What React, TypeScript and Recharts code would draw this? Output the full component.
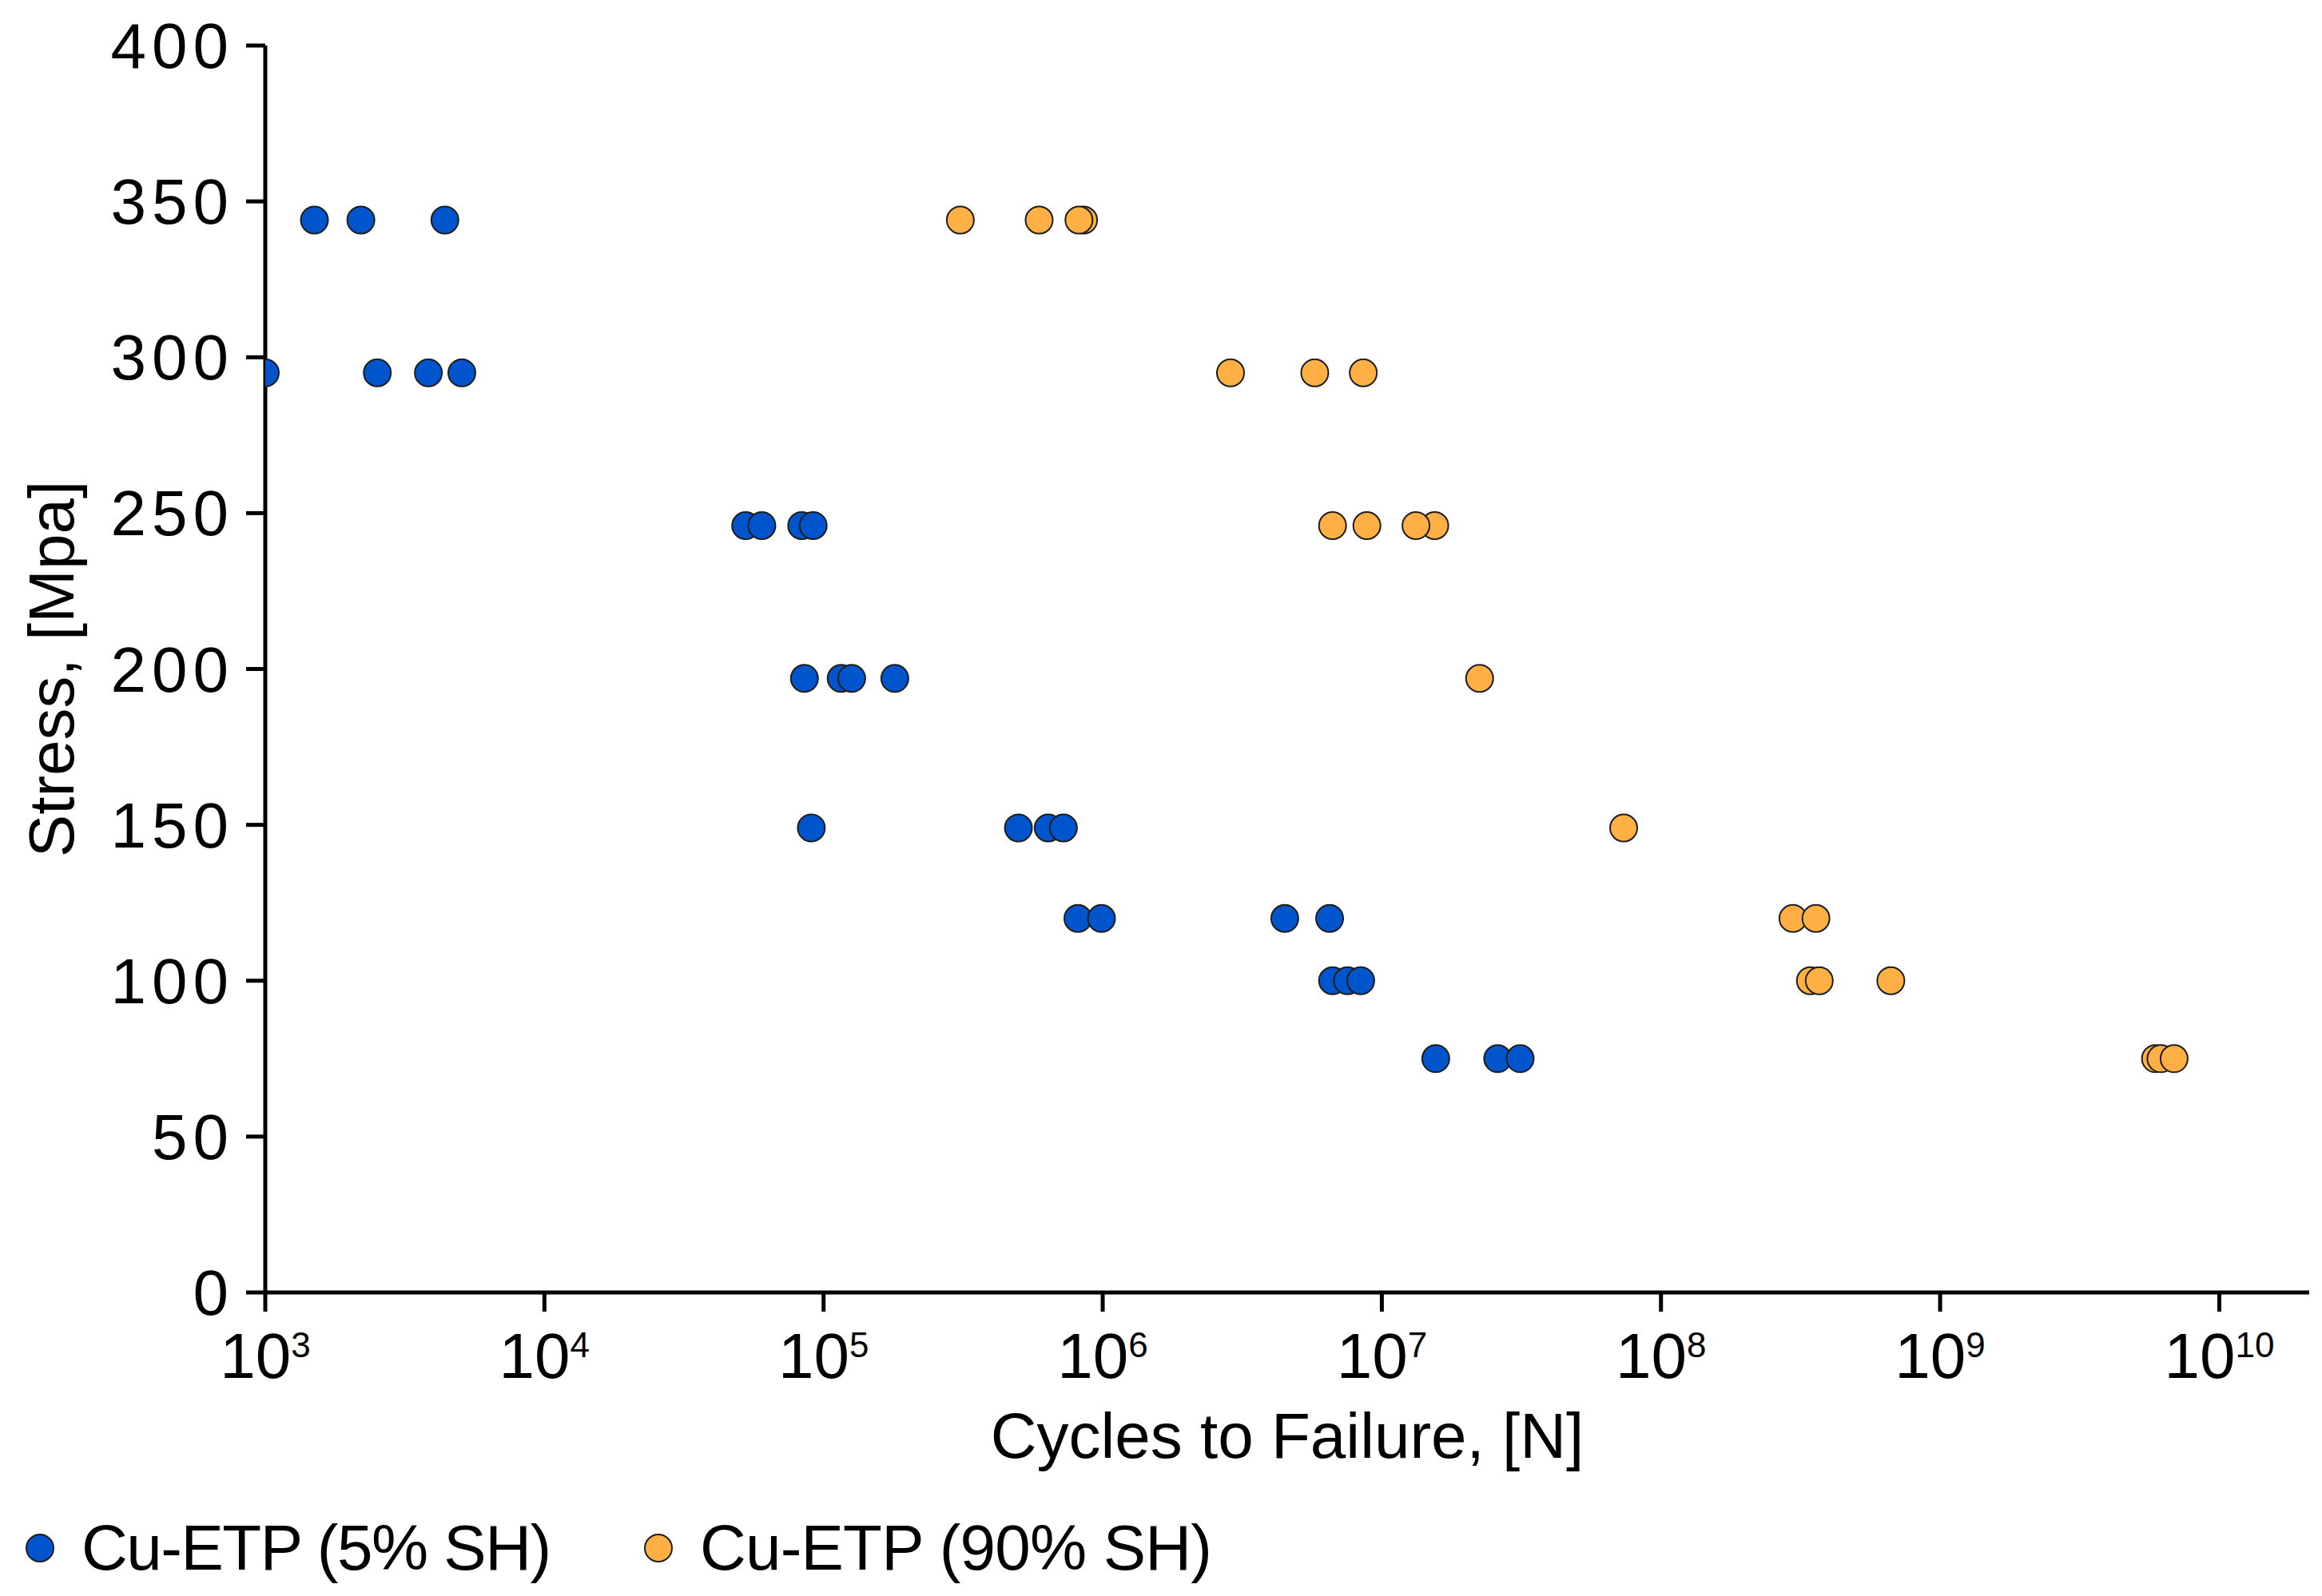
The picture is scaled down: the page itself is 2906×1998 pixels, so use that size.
import React from "react";
import {
  Label,
  Legend,
  Scatter,
  ScatterChart,
  XAxis,
  YAxis,
} from "recharts";

const FONT = "'Liberation Sans', Arial, sans-serif";
const BLUE = "#0055CC";
const ORANGE = "#FFB045";
const EDGE = "#1e1e1e";

// Cu-ETP (5% SH)
const CYCLES_5SH = [
  1500, 2200, 4400,
  1000, 2520, 3840, 5060,
  52600, 60100, 83500, 91800,
  85400, 115600, 126100, 180000,
  90400, 499000, 638000, 723000,
  815000, 990000, 4490000, 6500000,
  6660000, 7530000, 8400000,
  15600000, 26000000, 31300000,
];
const STRESS_5SH = [
  344, 344, 344,
  295, 295, 295, 295,
  246, 246, 246, 246,
  197, 197, 197, 197,
  149, 149, 149, 149,
  120, 120, 120, 120,
  100, 100, 100,
  75, 75, 75,
];

// Cu-ETP (90% SH)
const CYCLES_90SH = [
  309000, 592000, 854000, 822000,
  2870000, 5750000, 8580000,
  6660000, 8840000, 15470000, 13250000,
  22400000,
  73500000,
  297000000, 359000000,
  343000000, 369000000, 666000000,
  5910000000, 6180000000, 6890000000,
];
const STRESS_90SH = [
  344, 344, 344, 344,
  295, 295, 295,
  246, 246, 246, 246,
  197,
  149,
  120, 120,
  100, 100, 100,
  75, 75, 75,
];

const X_TICKS = [1e3, 1e4, 1e5, 1e6, 1e7, 1e8, 1e9, 1e10];
const Y_TICKS = [0, 50, 100, 150, 200, 250, 300, 350, 400];

const SERIES = [
  { name: "Cu-ETP (5% SH)", color: BLUE, cycles: CYCLES_5SH, stress: STRESS_5SH },
  { name: "Cu-ETP (90% SH)", color: ORANGE, cycles: CYCLES_90SH, stress: STRESS_90SH },
];

const MARKER_R = 17;

const toPoints = (cycles: number[], stress: number[]) =>
  cycles.map((c, i) => ({ cycles: c, stress: stress[i] }));

const XTick = (props: any) => {
  const { x, y, payload } = props;
  const exp = Math.round(Math.log10(payload.value));
  return (
    <text x={x} y={y} dy={83} textAnchor="middle" fontSize={80} fontFamily={FONT} fill="#000">
      10
      <tspan dy={-26} fontSize={44}>
        {exp}
      </tspan>
    </text>
  );
};

// digits in the original face run wider, so the tick numbers get some tracking
const YTick = (props: any) => {
  const { x, y, payload } = props;
  return (
    <text
      x={x + 7}
      y={y}
      dy={28}
      textAnchor="end"
      fontSize={80}
      fontFamily={FONT}
      letterSpacing={7}
      fill="#000"
    >
      {payload.value}
    </text>
  );
};

const XLabel = (props: any) => {
  const vb = props.viewBox;
  return (
    <text
      x={vb.x + vb.width / 2}
      y={vb.y + 207}
      textAnchor="middle"
      fontSize={80}
      fontFamily={FONT}
      fill="#000"
    >
      Cycles to Failure, [N]
    </text>
  );
};

const YLabel = (props: any) => {
  const vb = props.viewBox;
  const cx = 92;
  const cy = vb.y + vb.height / 2;
  return (
    <text
      x={cx}
      y={cy}
      transform={`rotate(-90 ${cx} ${cy})`}
      textAnchor="middle"
      fontSize={80}
      fontFamily={FONT}
      fill="#000"
    >
      Stress, [Mpa]
    </text>
  );
};

const Dot = (props: any) => {
  const { cx, cy, fill } = props;
  return <circle cx={cx} cy={cy} r={MARKER_R} fill={fill} stroke={EDGE} strokeWidth={2} />;
};

const LegendContent = () => (
  <div style={{ position: "relative", height: 90, fontFamily: FONT, fontSize: 80, color: "#000" }}>
    {SERIES.map((s, i) => (
      <div
        key={s.name}
        style={{
          position: "absolute",
          left: i === 0 ? 31 : 805,
          top: 0,
          height: 90,
          display: "flex",
          alignItems: "center",
          whiteSpace: "nowrap",
          letterSpacing: i === 0 ? -1.5 : -0.8,
        }}
      >
        <svg width={38} height={38} style={{ marginRight: 33 }}>
          <circle cx={19} cy={19} r={MARKER_R} fill={s.color} stroke={EDGE} strokeWidth={2} />
        </svg>
        <span>{s.name}</span>
      </div>
    ))}
  </div>
);

export default function App() {
  return (
    <div style={{ width: 2906, height: 1998, background: "#fff" }}>
      <style>{`body { margin: 0; }`}</style>
      <ScatterChart
        width={2906}
        height={1998}
        margin={{ top: 57, right: 16, bottom: 15, left: 0 }}
      >
        <XAxis
          type="number"
          dataKey="cycles"
          scale="log"
          domain={[1e3, 2.1e10]}
          ticks={X_TICKS}
          allowDataOverflow
          height={275}
          tickSize={24}
          tickMargin={0}
          tick={<XTick />}
          axisLine={{ stroke: "#000", strokeWidth: 5 }}
          tickLine={{ stroke: "#000", strokeWidth: 5 }}
        >
          <Label content={<XLabel />} />
        </XAxis>
        <YAxis
          type="number"
          dataKey="stress"
          domain={[0, 400]}
          ticks={Y_TICKS}
          width={332}
          tickSize={24}
          tickMargin={22}
          tick={<YTick />}
          axisLine={{ stroke: "#000", strokeWidth: 5 }}
          tickLine={{ stroke: "#000", strokeWidth: 5 }}
        >
          <Label content={<YLabel />} />
        </YAxis>
        <Legend verticalAlign="bottom" align="left" height={90} content={<LegendContent />} />
        {SERIES.map((s) => (
          <Scatter
            key={s.name}
            name={s.name}
            data={toPoints(s.cycles, s.stress)}
            fill={s.color}
            shape={<Dot />}
            isAnimationActive={false}
          />
        ))}
      </ScatterChart>
    </div>
  );
}
